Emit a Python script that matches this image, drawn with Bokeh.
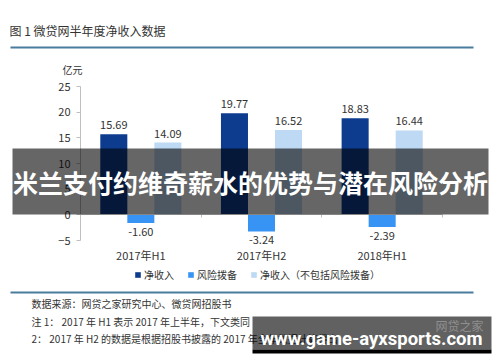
from bokeh.plotting import figure
from bokeh.models import (Range1d, ColumnDataSource, Label, BoxAnnotation,
                          Legend, LegendItem, FixedTicker, LinearAxis)
from bokeh.core.properties import value
from bokeh.embed import file_html
from bokeh.resources import INLINE

# ---- data ----
periods = ["2017年H1", "2017年H2", "2018年H1"]
net_income = [15.69, 19.77, 18.83]
risk_provision = [-1.60, -3.24, -2.39]
net_income_ex = [14.09, 16.52, 16.44]
series_names = ["净收入", "风险拨备", "净收入（不包括风险拨备）"]
y_ticks = [-5, 0, 5, 10, 15, 20, 25]
title_text = "图 1 微贷网半年度净收入数据"
unit_text = "亿元"
notes = ["数据来源：网贷之家研究中心、微贷网招股书",
         "注 1： 2017 年 H1 表示 2017 年上半年，下文类同",
         "2： 2017 年 H2 的数据是根据招股书披露的 2017 年全年数据计算得出"]
banner_text = "米兰支付约维奇薪水的优势与潜在风险分析"
site_text = "www.game-ayxsports.com"
logo_text = "网贷之家"

C_DARK = "#0d3c8e"
C_MID = "#3794f4"
C_LIGHT = "#bdd9f3"
FONT = "Noto Sans CJK SC"
TXT = "#333333"
AX = "#bfbfbf"

W, H = 500, 362
# plot-area geometry in canvas pixels
PL, PR = 80, 442          # x of category axis start / end
Y_TOP_PX, Y_BOT_PX = 86, 240   # pixels of y = 25 and y = -5
y_lo, y_hi = y_ticks[0], y_ticks[-1]
ppu = (Y_BOT_PX - Y_TOP_PX) / (y_hi - y_lo)
ncat = len(periods)
cw = (PR - PL) / ncat

x_start = -PL / cw
x_end = ncat + (W - PR) / cw
y_start = y_lo - (H - Y_BOT_PX) / ppu
y_end = y_hi + Y_TOP_PX / ppu

def sx(cx):
    return cx

def sy(cy):
    return H - cy

xpos = [i + 0.5 for i in range(ncat)]
bw = 0.224
src = ColumnDataSource(dict(
    xa=[x - bw for x in xpos], xb=xpos, xc=[x + bw for x in xpos],
    a=net_income, b=risk_provision, c=net_income_ex,
    a_t=[f"{v:.2f}" for v in net_income],
    b_t=[f"{v:.2f}" for v in risk_provision],
    c_t=[f"{v:.2f}" for v in net_income_ex]))

p = figure(width=W, height=H, x_range=Range1d(x_start, x_end), y_range=Range1d(y_start, y_end),
           output_backend="svg", toolbar_location=None, title=None,
           x_axis_location=None, y_axis_location=None,
           min_border=0, min_border_left=0, min_border_right=0,
           min_border_top=0, min_border_bottom=0)
p.outline_line_color = None
p.xgrid.grid_line_color = None
p.ygrid.grid_line_color = None
p.background_fill_color = "white"
p.border_fill_color = "white"

r1 = p.vbar(x="xa", top="a", width=bw, source=src, fill_color=C_DARK, line_color=None)
r2 = p.vbar(x="xb", top="b", width=bw, source=src, fill_color=C_MID, line_color=None)
r3 = p.vbar(x="xc", top="c", width=bw, source=src, fill_color=C_LIGHT, line_color=None)

lab_kw = dict(text_font=value(FONT), text_font_size="11px", text_color=TXT, text_align="center")
p.text(x="xa", y="a", text="a_t", source=src, text_baseline="bottom", y_offset=-5, **lab_kw)
p.text(x="xb", y="b", text="b_t", source=src, text_baseline="top", y_offset=5, **lab_kw)
p.text(x="xc", y="c", text="c_t", source=src, text_baseline="bottom", y_offset=-5, **lab_kw)

# y axis, fixed at the left edge of the category area
ya = LinearAxis(fixed_location=0, bounds=(y_lo, y_hi), ticker=FixedTicker(ticks=y_ticks))
ya.axis_line_color = AX
ya.major_tick_line_color = AX
ya.major_tick_in = 0
ya.major_tick_out = 4
ya.minor_tick_line_color = None
ya.major_label_text_font = FONT
ya.major_label_text_font_size = "11px"
ya.major_label_text_color = TXT
ya.major_label_standoff = 6
p.add_layout(ya, "left")

# zero line with category boundary ticks
za = LinearAxis(fixed_location=0, bounds=(0, ncat), ticker=FixedTicker(ticks=list(range(1, ncat + 1))))
za.axis_line_color = AX
za.major_tick_line_color = AX
za.major_tick_in = 0
za.major_tick_out = 3
za.minor_tick_line_color = None
za.major_label_text_alpha = 0
za.major_label_text_font_size = "1px"
p.add_layout(za, "below")

# category labels
xa = LinearAxis(fixed_location=y_lo, bounds=(0, ncat), ticker=FixedTicker(ticks=xpos),
                major_label_overrides={x: c for x, c in zip(xpos, periods)})
xa.axis_line_color = None
xa.major_tick_line_color = None
xa.major_tick_in = 0
xa.major_tick_out = 0
xa.minor_tick_line_color = None
xa.major_label_text_font = FONT
xa.major_label_text_font_size = "11px"
xa.major_label_text_color = TXT
xa.major_label_standoff = 6
p.add_layout(xa, "below")

legend = Legend(items=[LegendItem(label=series_names[0], renderers=[r1]),
                       LegendItem(label=series_names[1], renderers=[r2]),
                       LegendItem(label=series_names[2], renderers=[r3])],
                orientation="horizontal", location=(134, sy(282)),
                glyph_width=7, glyph_height=7, label_standoff=3, spacing=13,
                padding=0, margin=0, border_line_color=None, background_fill_alpha=0,
                label_text_font=FONT, label_text_font_size="10px", label_text_color=TXT,
                label_height=12)
p.add_layout(legend, "center")

def add_label(text, cx, cy, size, color=TXT, align="left", bold=False, font=FONT):
    p.add_layout(Label(x=sx(cx), y=sy(cy), x_units="screen", y_units="screen", text=text,
                       text_font=font, text_font_size=size, text_color=color,
                       text_align=align, text_baseline="middle",
                       text_font_style="bold" if bold else "normal"))

def add_box(l, t, r, b, color, alpha=1.0):
    p.add_layout(BoxAnnotation(left=sx(l), right=sx(r), top=sy(t), bottom=sy(b),
                               left_units="screen", right_units="screen",
                               top_units="screen", bottom_units="screen",
                               fill_color=color, fill_alpha=alpha, line_color=None))

add_label(title_text, 9, 30, "12px")
add_box(10, 46, 473, 48, "#4a7d9d")
add_label(unit_text, 62, 69, "10px")
add_box(10, 291, 473, 293, "#4a7d9d")
add_label(notes[0], 31, 303, "10px")
add_label(notes[1], 31, 321, "10px")
add_label(notes[2], 31, 338, "10px")

# overlay banner
add_box(12, 148, 488, 214, "black", 0.6)
add_label(banner_text, 250, 181, "25px", color="white", align="center", bold=True)

# footer box
add_box(252, 316, 491, 349, "black", 0.62)
add_box(252, 349, 491, 353, "black")
add_label(logo_text, 435, 325, "12px", color="#8f8f8f")
add_label(site_text, 371, 338, "18.5px", color="white", align="center", bold=True, font="Roboto")

open("out.html", "w").write(file_html(p, INLINE))
